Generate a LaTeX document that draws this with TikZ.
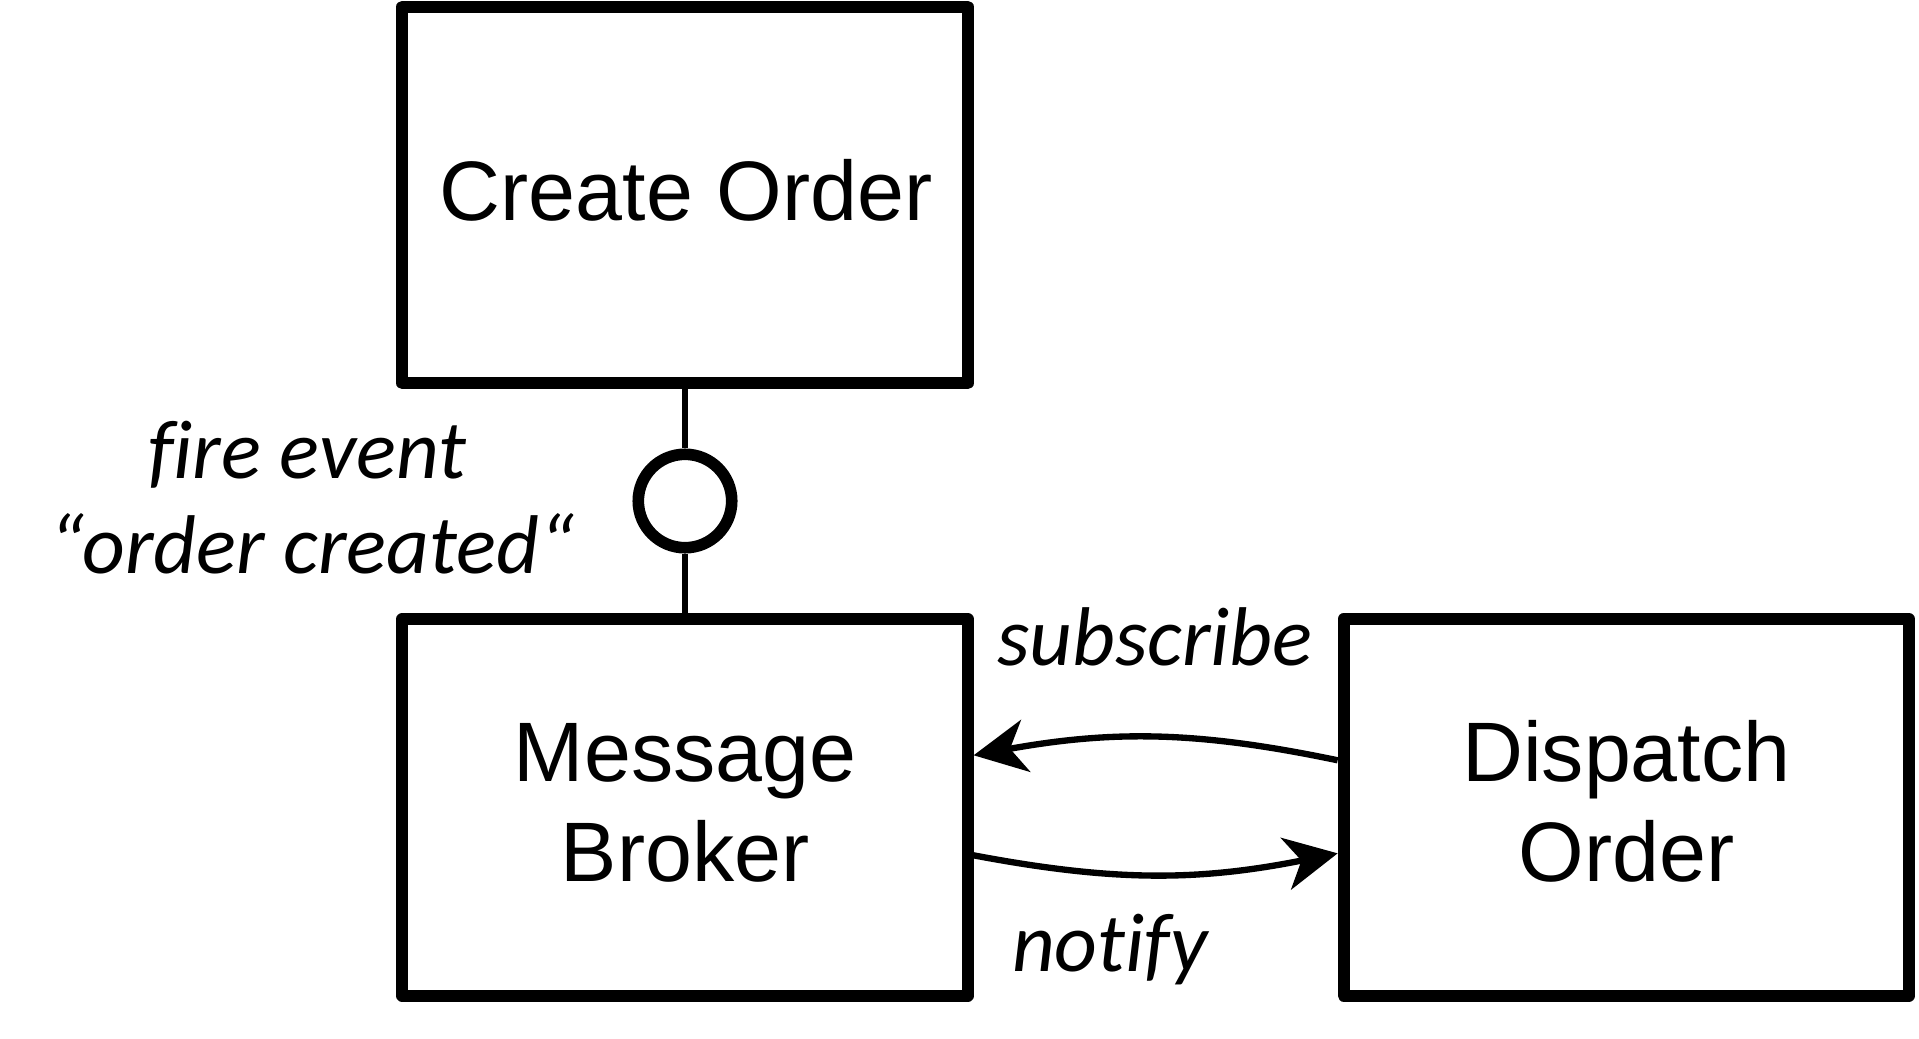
\documentclass[tikz,border=0pt]{standalone}
\usepackage{fontspec}
\setmainfont{Liberation Sans}
\newfontfamily\labelfont[Ligatures=NoCommon]{Carlito}
\usetikzlibrary{arrows.meta}
\tikzset{
  box/.style={draw, line width=3.4pt, line join=round, minimum width=5.65cm, minimum height=3.765cm, inner sep=0pt},
  boxtext/.style={anchor=base, font=\fontsize{24}{24}\selectfont, inner sep=0pt},
  lbl/.style={anchor=base, font=\labelfont\itshape\fontsize{23.7}{23.7}\selectfont, inner sep=0pt},
  port/.style={draw, circle, line width=3.3pt, minimum size=0.934cm, inner sep=0pt, fill=white},
  thin/.style={line width=1.8pt},
  flow/.style={line width=1.8pt, -{Stealth[length=15pt, width=15pt, inset=4.5pt]}, bend right=11},
}
\begin{document}
\begin{tikzpicture}[x=0.01cm, y=0.01cm]
\useasboundingbox (0,0) rectangle (1919,1038);
\node[box] (create) at (685,843) {};
\node[box] (broker) at (685,230.7) {};
\node[box] (dispatch) at (1626.3,230.7) {};
\node[port] (evt) at (685,537) {};
\draw[thin] (create.south) -- (evt.north);
\draw[thin] (evt.south) -- (broker.north);
\node[boxtext] (t1) at (686,818) {Create Order};
\node[boxtext] (t2) at (685,256.3) {Message};
\node[boxtext] (t3) at (685,156.3) {Broker};
\node[boxtext] (t4) at (1626.3,256.3) {Dispatch};
\node[boxtext] (t5) at (1626.3,156.3) {Order};
\node[lbl] (l1) at (307,560) {fire event};
\node[lbl] (l2) at (312,465) {“order created“};
\node[lbl] (l3) at (1155,373) {subscribe};
\node[lbl] (l4) at (1110,67) {notify};
\draw[flow] ([yshift=0.47cm]dispatch.west) to ([yshift=0.52cm]broker.east);
\draw[flow] ([yshift=-0.48cm]broker.east) to ([yshift=-0.46cm]dispatch.west);
\end{tikzpicture}
\end{document}
